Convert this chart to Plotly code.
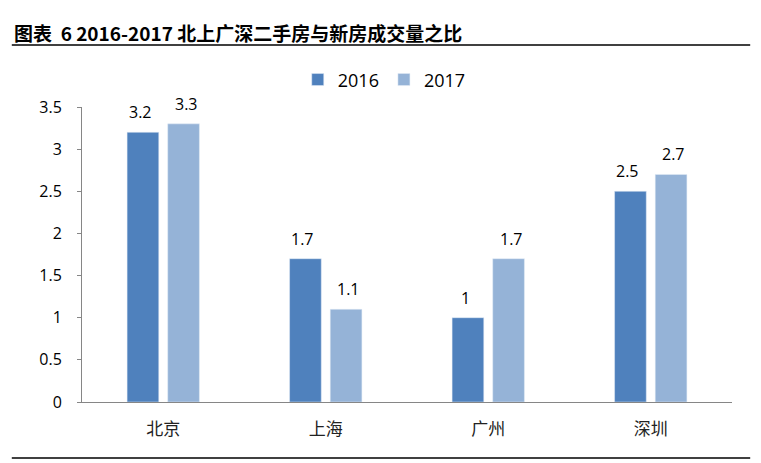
import plotly.graph_objects as go

cities = ["北京", "上海", "广州", "深圳"]
ratio_2016 = [3.2, 1.7, 1, 2.5]
ratio_2017 = [3.3, 1.1, 1.7, 2.7]
y_ticks = [0, 0.5, 1, 1.5, 2, 2.5, 3, 3.5]
y_tick_text = ["0", "0.5", "1", "1.5", "2", "2.5", "3", "3.5"]

font_main = "Open Sans, Noto Sans CJK SC, sans-serif"

fig = go.Figure()
fig.add_trace(go.Bar(x=cities, y=ratio_2016, name="2016", marker_color="#4F81BD"))
fig.add_trace(go.Bar(x=cities, y=ratio_2017, name="2017", marker_color="#95B3D7"))

# value labels sit a bit higher than plotly's "outside" text, so use annotations
for vals, dx in ((ratio_2016, -23), (ratio_2017, 23)):
    for c, v in zip(cities, vals):
        fig.add_annotation(x=c, y=v, text=f"{v:g}", showarrow=False, xshift=dx, yshift=7,
                           yanchor="bottom", font=dict(size=16, color="#000000"))

# the page adds ~8px of body margin, so the plot box is shifted up/left by that
fig.update_layout(
    width=761, height=463,
    margin=dict(l=74, r=37, t=99, b=69, autoexpand=False),
    paper_bgcolor="white", plot_bgcolor="white",
    font=dict(family=font_main, size=16, color="#000000"),
    barmode="group", bargap=0.5, bargroupgap=0.22,
    showlegend=True,
    legend=dict(orientation="h", x=0.465, xanchor="center", y=1.092, yanchor="middle",
                font=dict(size=18), bgcolor="rgba(0,0,0,0)", traceorder="normal"),
    xaxis=dict(showline=True, linecolor="#868686", linewidth=1, ticks="", automargin=False,
               tickfont=dict(family="Noto Sans CJK SC", size=17, color="#222222"),
               ticklabelstandoff=12),
    yaxis=dict(range=[0, 3.5], tickvals=y_ticks, ticktext=y_tick_text, automargin=False,
               showgrid=False, zeroline=False, showline=True, linecolor="#868686",
               linewidth=1, ticks="outside", ticklen=4, tickcolor="#868686",
               tickfont=dict(size=16), ticklabelstandoff=12),
)

# title and separator lines
fig.add_annotation(text="<b>图表  6 2016-2017 北上广深二手房与新房成交量之比</b>",
                   xref="paper", yref="paper", x=-0.108, y=1.254, xanchor="left", yanchor="middle",
                   showarrow=False, font=dict(family="Noto Sans CJK SC", size=19, color="#000000"))
fig.add_shape(type="line", xref="paper", yref="paper", x0=-0.108, x1=1.028, y0=1.21, y1=1.21,
              line=dict(color="#000000", width=1.5))
fig.add_shape(type="line", xref="paper", yref="paper", x0=-0.108, x1=1.028, y0=-0.19, y1=-0.19,
              line=dict(color="#000000", width=1.5))

fig.write_html("out.html")
